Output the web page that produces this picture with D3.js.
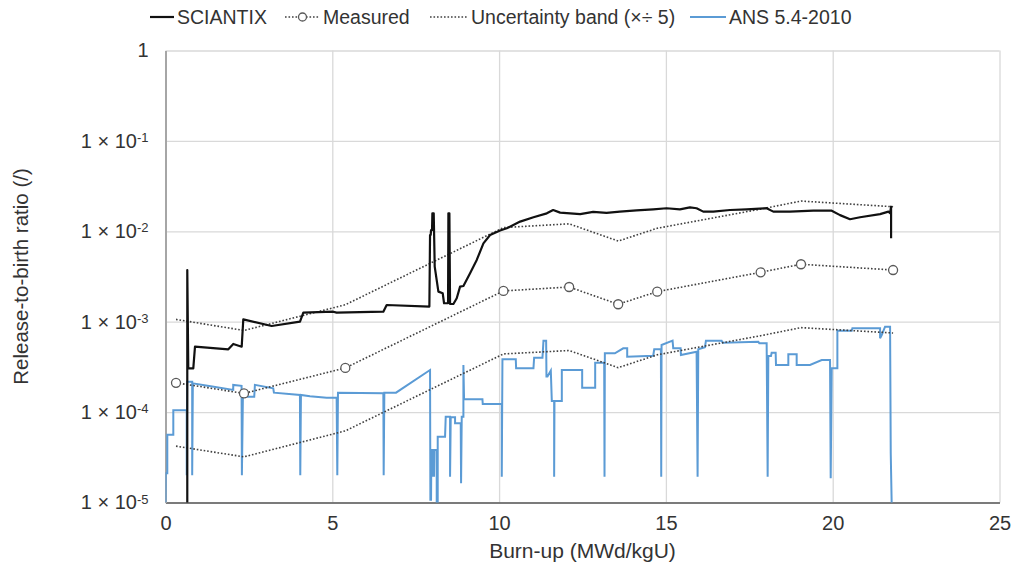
<!DOCTYPE html>
<html>
<head>
<meta charset="utf-8">
<script src="https://cdn.jsdelivr.net/npm/d3@7"></script>
<style>
  body { margin: 0; background: #fff; }
  svg text { font-family: "Liberation Sans", Arial, sans-serif; fill: #333; }
</style>
</head>
<body>
<div id="plot"></div>
<script>
//Measured release-to-birth ratio
var measuredBurnup = [0.315, 2.353, 5.39, 10.13, 12.10, 13.57, 14.74, 17.84, 19.05, 21.81];
var measuredRatio  = [2.11e-4, 1.61e-4, 3.08e-4, 2.19e-3, 2.42e-3, 1.56e-3, 2.15e-3, 3.52e-3, 4.32e-3, 3.73e-3];

//Uncertainty band (x/÷ 5)
var bandUpper = [1.06e-3, 8.0e-4, 1.54e-3, 1.1e-2, 1.21e-2, 7.8e-3, 1.08e-2, 1.76e-2, 2.16e-2, 1.87e-2];
var bandLower = [4.2e-5, 3.2e-5, 6.2e-5, 4.4e-4, 4.8e-4, 3.1e-4, 4.3e-4, 7.0e-4, 8.6e-4, 7.5e-4];

//SCIANTIX
var sciantixBurnup = [0.653, 0.653, 0.683, 0.833, 0.884, 1.883, 2.032, 2.284, 2.332, 3.183, 4.032, 4.131,
  5.03, 5.13, 6.53, 6.63, 7.91, 7.93, 7.95, 7.96, 7.99, 8.0, 8.04, 8.07, 8.18, 8.31, 8.35, 8.47, 8.48,
  8.51, 8.53, 8.63, 8.73, 8.83, 8.93, 9.13, 9.33, 9.53, 9.73, 10.03, 10.23, 10.63, 11.03, 11.43, 11.62,
  11.83, 12.43, 12.82, 13.22, 13.62, 14.12, 14.62, 15.02, 15.42, 15.72, 15.92, 16.12, 16.42, 16.92, 17.42, 18.02,
  18.22, 18.72, 19.42, 19.97, 20.22, 20.52, 20.82, 21.42, 21.67, 21.72, 21.75, 21.75];
var sciantixRatio = [5e-6, 3.73e-3, 3.05e-4, 3.05e-4, 5.29e-4, 4.95e-4, 5.67e-4, 5.29e-4, 1.06e-3, 8.96e-4, 1.0e-3, 1.26e-3,
  1.29e-3, 1.26e-3, 1.29e-3, 1.53e-3, 1.47e-3, 9.1e-3, 9.1e-3, 1.03e-2, 1.03e-2, 1.58e-2, 1.58e-2, 4.06e-3, 2.15e-3, 2.06e-3, 1.6e-3, 1.6e-3, 1.58e-2,
  1.58e-2, 1.57e-3, 1.57e-3, 1.82e-3, 2.44e-3, 2.48e-3, 3.43e-3, 4.82e-3, 7.36e-3, 9.1e-3, 1.02e-2, 1.08e-2, 1.28e-2, 1.43e-2, 1.58e-2, 1.72e-2,
  1.61e-2, 1.55e-2, 1.64e-2, 1.6e-2, 1.65e-2, 1.7e-2, 1.75e-2, 1.8e-2, 1.75e-2, 1.84e-2, 1.8e-2, 1.65e-2, 1.65e-2, 1.72e-2, 1.75e-2, 1.8e-2,
  1.65e-2, 1.65e-2, 1.69e-2, 1.69e-2, 1.51e-2, 1.36e-2, 1.43e-2, 1.55e-2, 1.65e-2, 1.59e-2, 1.87e-2, 8.4e-3];

//ANS 5.4-2010
var ansBurnup = [0.0, 0.006, 0.054, 0.054, 0.234, 0.234, 0.636, 0.636, 0.65, 0.80, 0.80, 0.82,
  1.4, 2.03, 2.03, 2.28, 2.29, 2.32, 2.66, 2.68, 3.23, 3.25, 4.03, 4.04, 4.06, 4.33, 4.83, 5.13, 5.15, 5.17,
  6.53, 6.54, 6.56, 6.91, 7.93, 7.94, 7.96, 7.97, 8.02, 8.02, 8.03, 8.05, 8.05, 8.06, 8.13, 8.13, 8.16, 8.16,
  8.38, 8.40, 8.53, 8.53, 8.55, 8.68, 8.68, 8.85, 8.86, 8.88, 8.93, 8.93, 8.95, 9.50, 9.51, 10.08, 10.08, 10.10,
  10.50, 10.51, 11.03, 11.05, 11.30, 11.33, 11.41, 11.42, 11.45, 11.55, 11.58, 11.65, 11.65, 11.66, 11.88, 11.88,
  12.49, 12.49, 12.88, 12.88, 13.15, 13.16, 13.17, 13.47, 13.72, 13.84, 13.84, 14.62, 14.65, 14.85, 14.86, 14.87,
  15.20, 15.22, 15.44, 15.45, 15.92, 15.95, 15.97, 16.17, 16.20, 16.67, 16.70, 17.77, 17.80, 18.02, 18.05, 18.07,
  18.15, 18.17, 18.29, 18.30, 18.67, 18.67, 18.92, 18.92, 19.32, 19.67, 19.92, 19.94, 19.97, 20.14, 20.14, 20.57,
  20.59, 21.42, 21.42, 21.47, 21.57, 21.72, 21.74, 21.77];
var ansRatio = [1.0e-5, 2.1e-5, 2.1e-5, 5.6e-5, 5.6e-5, 1.05e-4, 1.05e-4, 2.0e-5, 2.17e-4, 2.17e-4, 2.0e-5, 2.08e-4,
  1.92e-4, 1.76e-4, 2.0e-4, 1.95e-4, 2.0e-5, 1.48e-4, 1.48e-4, 2.0e-4, 1.83e-4, 1.64e-4, 1.55e-4, 2.0e-5, 1.55e-4, 1.5e-4, 1.44e-4, 1.44e-4, 2.0e-5, 1.64e-4,
  1.62e-4, 2.0e-5, 1.64e-4, 1.64e-4, 2.92e-4, 1.07e-5, 1.07e-5, 3.81e-5, 3.81e-5, 1.93e-5, 3.81e-5, 3.81e-5, 1.93e-5, 3.81e-5, 3.81e-5, 9e-6, 9e-6, 5.35e-5,
  5.35e-5, 8.9e-5, 8.9e-5, 1.93e-5, 8.76e-5, 8.76e-5, 7.51e-5, 7.51e-5, 1.63e-5, 8.9e-5, 8.9e-5, 3.32e-4, 1.39e-4, 1.39e-4, 1.23e-4, 1.23e-4, 1.93e-5, 3.84e-4,
  3.84e-4, 3.05e-4, 3.05e-4, 4.0e-4, 4.0e-4, 6.17e-4, 6.17e-4, 2.47e-4, 2.47e-4, 2.87e-4, 1.33e-4, 1.33e-4, 1.93e-5, 1.33e-4, 1.33e-4, 2.92e-4,
  2.92e-4, 1.86e-4, 1.86e-4, 3.52e-4, 3.52e-4, 1.93e-5, 4.47e-4, 4.47e-4, 5.08e-4, 5.08e-4, 4.1e-4, 4.2e-4, 4.95e-4, 4.95e-4, 1.93e-5, 5.52e-4,
  6.17e-4, 5.08e-4, 5.08e-4, 4.28e-4, 4.66e-4, 1.93e-5, 4.95e-4, 5.21e-4, 6.17e-4, 6.17e-4, 5.86e-4, 6.01e-4, 5.77e-4, 5.77e-4, 1.93e-5, 4.18e-4,
  4.18e-4, 4.54e-4, 4.54e-4, 3.32e-4, 3.32e-4, 4.36e-4, 4.36e-4, 3.32e-4, 3.32e-4, 3.77e-4, 3.77e-4, 1.85e-5, 3.05e-4, 3.05e-4, 7.94e-4, 7.94e-4,
  8.45e-4, 8.45e-4, 6.55e-4, 7.13e-4, 8.8e-4, 8.8e-4, 3.5e-5, 9e-6];

//Axis ticks and labels
var xTicks = [0, 5, 10, 15, 20, 25];
var yTicks = [1e-5, 1e-4, 1e-3, 1e-2, 1e-1, 1];
var yTickExponents = ["-5", "-4", "-3", "-2", "-1", ""];
var legendLabels = ["SCIANTIX", "Measured", "Uncertainty band (×÷ 5)", "ANS 5.4-2010"];

var margin = {top: 50.5, right: 14.5, bottom: 69.5, left: 165.5};
var width = 1014 - margin.left - margin.right;
var height = 572 - margin.top - margin.bottom;

var svg = d3.select("#plot").append("svg")
    .attr("width", 1014)
    .attr("height", 572);

var g = svg.append("g")
    .attr("transform", "translate(" + margin.left + "," + margin.top + ")");

var xScale = d3.scaleLinear().domain([0, 25]).range([0, width]);
var yScale = d3.scaleLog().domain([1e-5, 1]).range([height, 0]);

svg.append("defs").append("clipPath")
    .attr("id", "clip")
  .append("rect")
    .attr("width", width)
    .attr("height", height);

//Gridlines
g.append("g")
    .attr("class", "grid")
    .call(d3.axisLeft(yScale).tickValues(yTicks).tickSize(-width).tickFormat(""))
    .call(function(s) {
      s.select(".domain").remove();
      s.selectAll("line").attr("stroke", "#d9d9d9").attr("stroke-width", 1.3);
    });
g.append("g")
    .attr("class", "grid")
    .attr("transform", "translate(0," + height + ")")
    .call(d3.axisBottom(xScale).tickValues(xTicks.slice(1)).tickSize(-height).tickFormat(""))
    .call(function(s) {
      s.select(".domain").remove();
      s.selectAll("line").attr("stroke", "#d9d9d9").attr("stroke-width", 1.3);
    });

//Axes
var xAxis = g.append("g")
    .attr("class", "x axis")
    .attr("transform", "translate(0," + height + ")")
    .call(d3.axisBottom(xScale).tickValues(xTicks).tickSize(0).tickPadding(13).tickFormat(d3.format("d")));
xAxis.select(".domain").attr("stroke", "#595959").attr("stroke-width", 1.5);
xAxis.selectAll("text").style("font-size", "20px").attr("fill", "#333");

var yAxis = g.append("g")
    .attr("class", "y axis")
    .call(d3.axisLeft(yScale).tickValues(yTicks).tickSize(0).tickPadding(17).tickFormat(""));
yAxis.select(".domain").attr("stroke", "#a6a6a6").attr("stroke-width", 2);
yAxis.selectAll(".tick text")
    .style("font-size", "20px")
    .attr("fill", "#333")
    .each(function(d, i) {
      var t = d3.select(this);
      if (yTickExponents[i] === "") {
        t.text("1");
        return;
      }
      t.append("tspan").text("1 × 10");
      t.append("tspan")
        .attr("dy", "-0.45em")
        .style("font-size", "13px")
        .text(yTickExponents[i]);
    });

//Axis titles
g.append("text")
    .attr("transform", "translate(" + (-margin.left + 28) + "," + (height / 2) + ") rotate(-90)")
    .style("text-anchor", "middle")
    .style("font-size", "20.5px")
    .text("Release-to-birth ratio (/)");

g.append("text")
    .attr("x", width / 2)
    .attr("y", height + 55)
    .style("text-anchor", "middle")
    .style("font-size", "21px")
    .text("Burn-up (MWd/kgU)");

//Series
var line = d3.line()
    .x(function(d) { return xScale(d[0]); })
    .y(function(d) { return yScale(d[1]); });

var plot = g.append("g").attr("clip-path", "url(#clip)");

function pairs(xs, ys) {
  return xs.map(function(x, i) { return [x, ys[i]]; });
}

plot.append("path")
    .datum(pairs(ansBurnup, ansRatio))
    .attr("fill", "none")
    .attr("stroke", "#5b9bd5")
    .attr("stroke-width", 2)
    .attr("d", line);

[bandUpper, bandLower, measuredRatio].forEach(function(ys) {
  plot.append("path")
      .datum(pairs(measuredBurnup, ys))
      .attr("fill", "none")
      .attr("stroke", "#404040")
      .attr("stroke-width", 1.6)
      .attr("stroke-dasharray", "1.6,1.9")
      .attr("d", line);
});

plot.append("path")
    .datum(pairs(sciantixBurnup, sciantixRatio))
    .attr("fill", "none")
    .attr("stroke", "#111")
    .attr("stroke-width", 2.2)
    .attr("stroke-linejoin", "round")
    .attr("d", line);

plot.selectAll(".dot")
    .data(pairs(measuredBurnup, measuredRatio))
  .enter().append("circle")
    .attr("class", "dot")
    .attr("r", 4.5)
    .attr("cx", function(d) { return xScale(d[0]); })
    .attr("cy", function(d) { return yScale(d[1]); })
    .attr("fill", "#fff")
    .attr("stroke", "#595959")
    .attr("stroke-width", 1.3);

//Legend
var legendX = [150, 285, 430, 690];
var legendW = [24, 35, 38, 36];
var legend = svg.append("g").attr("class", "legend");
legendLabels.forEach(function(label, i) {
  var item = legend.append("g").attr("transform", "translate(" + legendX[i] + ",17)");
  var ln = item.append("line")
      .attr("x1", 0).attr("x2", legendW[i])
      .attr("y1", 0).attr("y2", 0);
  if (i === 0) ln.attr("stroke", "#111").attr("stroke-width", 2.2);
  if (i === 1 || i === 2) ln.attr("stroke", "#404040").attr("stroke-width", 1.6).attr("stroke-dasharray", "1.6,1.9");
  if (i === 3) ln.attr("stroke", "#5b9bd5").attr("stroke-width", 2);
  if (i === 1) {
    item.append("circle").attr("cx", legendW[i] / 2).attr("cy", 0).attr("r", 4)
      .attr("fill", "#fff").attr("stroke", "#595959").attr("stroke-width", 1.3);
  }
  item.append("text")
      .attr("x", legendW[i] + 3)
      .attr("y", 7)
      .style("font-size", "19.5px")
      .text(label);
});
</script>
</body>
</html>
